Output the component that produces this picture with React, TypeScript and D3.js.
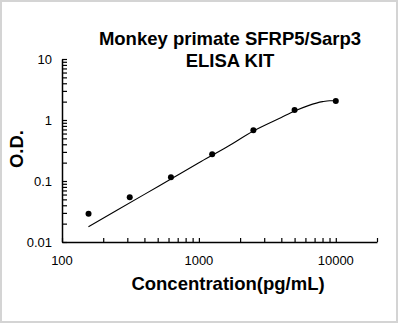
import React, { useRef, useEffect } from 'react';
import * as d3 from 'd3';

// standard points (pg/mL) and measured O.D.
const concentrations = [156.25, 312.5, 625, 1250, 2500, 5000, 10000];
const odValues = [0.029, 0.054, 0.115, 0.274, 0.68, 1.46, 2.04];

// fitted curve
const curveX = [156, 250, 400, 625, 1000, 1600, 2500, 4000, 5000, 6300, 8000, 9000, 10000];
const curveY = [0.0178, 0.0328, 0.0604, 0.108, 0.199, 0.36, 0.66, 1.1, 1.4, 1.72, 2.0, 2.07, 2.07];

const xTickLabels = [100, 1000, 10000];
const yTickLabels = [0.01, 0.1, 1, 10];

const title = ['Monkey primate SFRP5/Sarp3', 'ELISA KIT'];
const xTitle = 'Concentration(pg/mL)';
const yTitle = 'O.D.';

const App: React.FC = () => {
  const width = 398;
  const height = 323;
  const margin = { top: 59, right: 21, bottom: 81, left: 62 };
  const svgRef = useRef<SVGSVGElement | null>(null);

  useEffect(() => {
    const svg = d3.select(svgRef.current);
    svg.selectAll('*').remove();

    const font = 'Arial, "Liberation Sans", sans-serif';

    // light frame round the picture
    svg.append('rect')
      .attr('x', 1).attr('y', 1)
      .attr('width', width - 2).attr('height', height - 2)
      .attr('fill', 'white')
      .attr('stroke', '#d4d4d4')
      .attr('stroke-width', 2);

    const x = d3.scaleLog().domain([100, 20000]).range([margin.left, width - margin.right]);
    const y = d3.scaleLog().domain([0.01, 10]).range([height - margin.bottom, margin.top]);

    const g = svg.append('g');

    // x axis, ticks pointing into the plot
    const xAxis = g.append('g')
      .attr('transform', `translate(0,${height - margin.bottom})`)
      .call(d3.axisTop(x).tickValues(x.ticks()).tickSize(4).tickSizeOuter(0).tickFormat(() => ''));
    xAxis.select('.domain').attr('stroke-width', 1.5);
    xAxis.selectAll('.tick line').attr('stroke-width', 1.2);

    // y axis, ticks pointing into the plot
    const yAxis = g.append('g')
      .attr('transform', `translate(${margin.left},0)`)
      .call(d3.axisRight(y).tickValues(y.ticks()).tickSize(5).tickSizeOuter(0).tickFormat(() => ''));
    yAxis.select('.domain').attr('stroke-width', 1.5);
    yAxis.selectAll('.tick line').attr('stroke-width', 1.2);

    // tick labels
    g.selectAll('.x-label')
      .data(xTickLabels)
      .enter()
      .append('text')
      .attr('x', d => x(d))
      .attr('y', height - margin.bottom + 23)
      .attr('text-anchor', 'middle')
      .attr('font-family', font)
      .attr('font-size', 13)
      .text(d => String(d));

    g.selectAll('.y-label')
      .data(yTickLabels)
      .enter()
      .append('text')
      .attr('x', margin.left - 10)
      .attr('y', d => y(d))
      .attr('dy', '0.35em')
      .attr('text-anchor', 'end')
      .attr('font-family', font)
      .attr('font-size', 13)
      .text(d => String(d));

    // fitted curve
    const line = d3.line<[number, number]>()
      .x(d => x(d[0]))
      .y(d => y(d[1]))
      .curve(d3.curveMonotoneX);
    g.append('path')
      .datum(curveX.map((c, i) => [c, curveY[i]] as [number, number]))
      .attr('d', line)
      .attr('fill', 'none')
      .attr('stroke', 'black')
      .attr('stroke-width', 1.1);

    // standard points
    g.selectAll('circle')
      .data(concentrations.map((c, i) => ({ c, od: odValues[i] })))
      .enter()
      .append('circle')
      .attr('cx', d => x(d.c))
      .attr('cy', d => y(d.od))
      .attr('r', 3)
      .attr('fill', 'black');

    // titles
    svg.selectAll('.title')
      .data(title)
      .enter()
      .append('text')
      .attr('x', 230)
      .attr('y', (d, i) => 45 + i * 21.5)
      .attr('text-anchor', 'middle')
      .attr('font-family', font)
      .attr('font-weight', 'bold')
      .attr('font-size', 18.5)
      .text(d => d);

    svg.append('text')
      .attr('x', 228)
      .attr('y', 290)
      .attr('text-anchor', 'middle')
      .attr('font-family', font)
      .attr('font-weight', 'bold')
      .attr('font-size', 18.5)
      .text(xTitle);

    svg.append('text')
      .attr('transform', 'translate(23,149) rotate(-90)')
      .attr('text-anchor', 'middle')
      .attr('font-family', font)
      .attr('font-weight', 'bold')
      .attr('font-size', 18.5)
      .text(yTitle);
  }, []);

  return (
    <svg
      ref={svgRef}
      width={width}
      height={height}
      style={{ position: 'absolute', left: 0, top: 0, background: 'white' }}
    />
  );
};

export default App;
